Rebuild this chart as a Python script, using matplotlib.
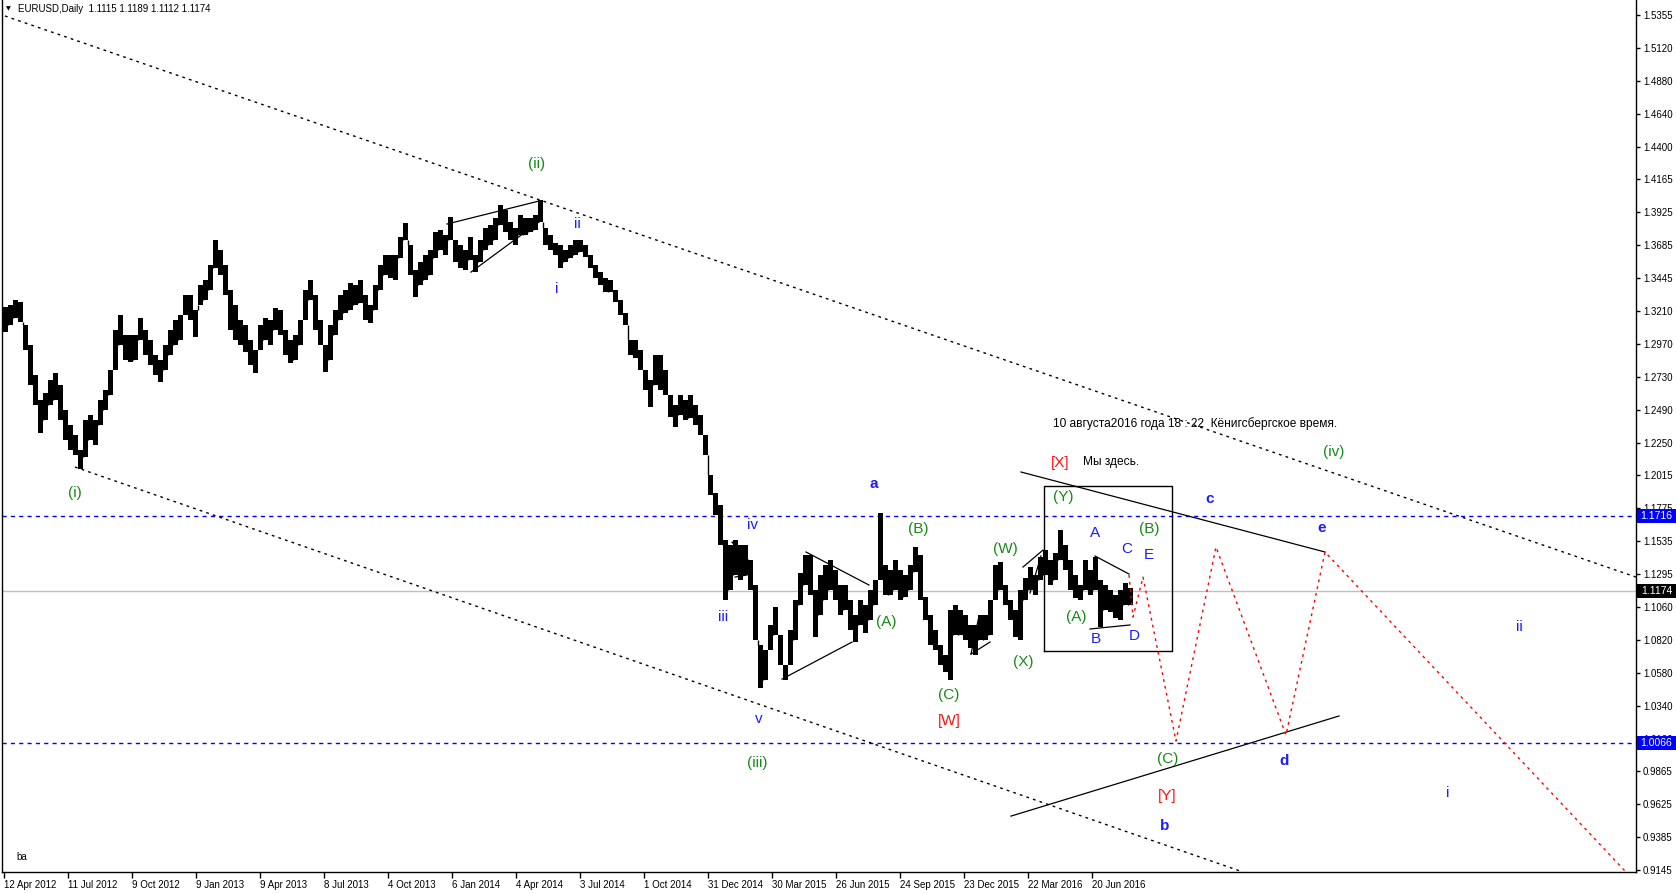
import matplotlib
matplotlib.use('Agg')
import matplotlib.pyplot as plt
from matplotlib.patches import Rectangle
import numpy as np

# ---------------- data ----------------
# price high / low of consecutive 5-day blocks of EURUSD daily bars (12 Apr 2012 .. 10 Aug 2016)
block_high = [
    1.3234, 1.3249, 1.3285, 1.3271, 1.3104, 1.2958, 1.2740, 1.2559, 1.2610, 1.2704,
    1.2755, 1.2668, 1.2486, 1.2377, 1.2305, 1.2196, 1.2413, 1.2450, 1.2413, 1.2559,
    1.2631, 1.2777, 1.3067, 1.3176, 1.3031, 1.3031, 1.3031, 1.3154, 1.3067, 1.2995,
    1.2886, 1.2849, 1.2958, 1.3067, 1.3140, 1.3176, 1.3321, 1.3321, 1.3212, 1.3394,
    1.3430, 1.3539, 1.3721, 1.3648, 1.3539, 1.3358, 1.3249, 1.3140, 1.3104, 1.2995,
    1.2922, 1.3104, 1.3154, 1.3140, 1.3227, 1.3212, 1.3067, 1.2995, 1.3031, 1.3140,
    1.3358, 1.3430, 1.3321, 1.3140, 1.2958, 1.3104, 1.3212, 1.3321, 1.3358, 1.3409,
    1.3394, 1.3430, 1.3321, 1.3249, 1.3394, 1.3539, 1.3612, 1.3612, 1.3612, 1.3743,
    1.3844, 1.3685, 1.3503, 1.3561, 1.3612, 1.3648, 1.3779, 1.3794, 1.3757, 1.3888,
    1.3721, 1.3685, 1.3648, 1.3743, 1.3612, 1.3721, 1.3808, 1.3830, 1.3881, 1.3975,
    1.3939, 1.3852, 1.3808, 1.3903, 1.3881, 1.3881, 1.3903, 1.4011, 1.3808, 1.3757,
    1.3699, 1.3685, 1.3648, 1.3685, 1.3721, 1.3721, 1.3685, 1.3612, 1.3539, 1.3489,
    1.3445, 1.3430, 1.3358, 1.3285, 1.3191, 1.2995, 1.2995, 1.2922, 1.2777, 1.2704,
    1.2886, 1.2886, 1.2777, 1.2595, 1.2522, 1.2595, 1.2559, 1.2595, 1.2522, 1.2450,
    1.2305, 1.2014, 1.1883, 1.1796, 1.1542, 1.1506, 1.1542, 1.1506, 1.1506, 1.1397,
    1.1215, 1.0779, 1.0743, 1.0925, 1.1055, 1.0852, 1.0634, 1.0888, 1.1106, 1.1302,
    1.1433, 1.1433, 1.1179, 1.1288, 1.1360, 1.1397, 1.1324, 1.1215, 1.1215, 1.1106,
    1.0997, 1.1106, 1.1070, 1.1179, 1.1252, 1.1738, 1.1361, 1.1324, 1.1397, 1.1324,
    1.1288, 1.1361, 1.1491, 1.1433, 1.1128, 1.0997, 1.0888, 1.0779, 1.0707, 1.1033,
    1.1070, 1.1033, 1.0997, 1.0925, 1.0925, 1.0997, 1.0997, 1.1106, 1.1361, 1.1382,
    1.1215, 1.1106, 1.1033, 1.1179, 1.1266, 1.1346, 1.1288, 1.1419, 1.1469, 1.1397,
    1.1448, 1.1615, 1.1506, 1.1397, 1.1288, 1.1215, 1.1397, 1.1324, 1.1419, 1.1252,
    1.1215, 1.1179, 1.1143, 1.1179, 1.1230, 1.1194]
block_low = [
    1.3053, 1.3104, 1.3154, 1.3125, 1.2922, 1.2668, 1.2523, 1.2319, 1.2413, 1.2523,
    1.2559, 1.2413, 1.2268, 1.2196, 1.2159, 1.2058, 1.2145, 1.2268, 1.2232, 1.2377,
    1.2486, 1.2595, 1.2777, 1.2958, 1.2849, 1.2835, 1.2849, 1.2995, 1.2886, 1.2813,
    1.2740, 1.2690, 1.2777, 1.2886, 1.2958, 1.2995, 1.3176, 1.3140, 1.3016, 1.3249,
    1.3285, 1.3358, 1.3518, 1.3467, 1.3321, 1.3067, 1.2995, 1.2958, 1.2907, 1.2813,
    1.2755, 1.2922, 1.2995, 1.2958, 1.3067, 1.3031, 1.2886, 1.2828, 1.2849, 1.2958,
    1.3140, 1.3285, 1.3067, 1.2958, 1.2762, 1.2849, 1.3031, 1.3140, 1.3191, 1.3212,
    1.3249, 1.3263, 1.3140, 1.3118, 1.3212, 1.3358, 1.3467, 1.3445, 1.3430, 1.3590,
    1.3721, 1.3467, 1.3307, 1.3394, 1.3430, 1.3467, 1.3590, 1.3648, 1.3612, 1.3721,
    1.3561, 1.3518, 1.3503, 1.3576, 1.3488, 1.3561, 1.3648, 1.3685, 1.3721, 1.3830,
    1.3779, 1.3721, 1.3685, 1.3757, 1.3757, 1.3779, 1.3794, 1.3852, 1.3685, 1.3648,
    1.3612, 1.3518, 1.3561, 1.3590, 1.3612, 1.3634, 1.3597, 1.3518, 1.3445, 1.3394,
    1.3343, 1.3343, 1.3271, 1.3176, 1.3104, 1.2886, 1.2864, 1.2777, 1.2631, 1.2508,
    1.2668, 1.2631, 1.2595, 1.2435, 1.2363, 1.2450, 1.2413, 1.2428, 1.2377, 1.2305,
    1.2159, 1.1869, 1.1724, 1.1506, 1.1106, 1.1179, 1.1288, 1.1252, 1.1288, 1.1179,
    1.0816, 1.0467, 1.0525, 1.0743, 1.0852, 1.0634, 1.0525, 1.0634, 1.0816, 1.1070,
    1.1215, 1.1142, 1.0837, 1.0997, 1.1106, 1.1179, 1.1106, 1.0997, 1.1033, 1.0888,
    1.0801, 1.0925, 1.0866, 1.0961, 1.1070, 1.1252, 1.1143, 1.1143, 1.1179, 1.1106,
    1.1128, 1.1179, 1.1309, 1.1106, 1.0961, 1.0779, 1.0743, 1.0634, 1.0583, 1.0525,
    1.0852, 1.0852, 1.0816, 1.0758, 1.0707, 1.0816, 1.0816, 1.0852, 1.1106, 1.1179,
    1.1070, 1.0961, 1.0837, 1.0816, 1.1106, 1.1179, 1.1143, 1.1252, 1.1288, 1.1215,
    1.1252, 1.1397, 1.1324, 1.1179, 1.1121, 1.1106, 1.1179, 1.1143, 1.1179, 1.0910,
    1.1033, 1.1019, 1.0975, 1.0961, 1.1070, 1.1070]
BLOCK = 5  # bars per block

date_labels = ["12 Apr 2012", "11 Jul 2012", "9 Oct 2012", "9 Jan 2013", "9 Apr 2013",
               "8 Jul 2013", "4 Oct 2013", "6 Jan 2014", "4 Apr 2014", "3 Jul 2014",
               "1 Oct 2014", "31 Dec 2014", "30 Mar 2015", "26 Jun 2015", "24 Sep 2015",
               "23 Dec 2015", "22 Mar 2016", "20 Jun 2016"]
price_labels = ["1.5355", "1.5120", "1.4880", "1.4640", "1.4400", "1.4165", "1.3925",
                "1.3685", "1.3445", "1.3210", "1.2970", "1.2730", "1.2490", "1.2250",
                "1.2015", "1.1775", "1.1535", "1.1295", "1.1060", "1.0820", "1.0580",
                "1.0340", "1.0100", "0.9865", "0.9625", "0.9385", "0.9145"]

level_high = 1.1716
level_low = 1.0066
bid = 1.1174
header = "EURUSD,Daily  1.1115 1.1189 1.1112 1.1174"

# trend lines: (bar, price) anchors
channel_upper = [(2, 1.5348), (1633, 1.1273)]
channel_lower = [(72, 1.2072), (1240, 0.9131)]
solid_lines = [
    [(444, 1.3837), (536, 1.4004)], [(468, 1.3488), (536, 1.3852)],      # wedge (ii)
    [(729, 1.1527), (745, 1.1397)], [(732, 1.1273), (744, 1.1288)],      # iv
    [(803, 1.1455), (866, 1.1215)], [(779, 1.0532), (849, 1.0801)],      # triangle (A)
    [(968, 1.0714), (976, 1.0990), (987, 1.0939)], [(968, 1.0714), (987, 1.0801)],
    [(1020, 1.1346), (1040, 1.1469)], [(1027, 1.1157), (1038, 1.1426)],
    [(1092, 1.1426), (1126, 1.1295)], [(1087, 1.0896), (1127, 1.0925)],  # A-E
    [(1018, 1.2036), (1322, 1.1455)], [(1008, 0.9537), (1336, 1.0264)],  # a-e
]
box = (1041, 1169, 1.0736, 1.1934)
projection = [(1126, 1.1288), (1130, 1.0983), (1140, 1.1273), (1173, 1.0082),
              (1213, 1.1491), (1283, 1.0126), (1322, 1.1455), (1622, 0.9138)]

GREEN, BLUE, RED = '#168a16', '#1c1cff', '#ff1010'
labels = [
    ("(ii)", 534, 1.4273, GREEN), ("ii", 574, 1.3837, BLUE), ("i", 554, 1.3365, BLUE),
    ("(i)", 72, 1.1883, GREEN), ("iv", 749, 1.1651, BLUE), ("iii", 720, 1.0983, BLUE),
    ("v", 756, 1.0242, BLUE), ("(iii)", 754, 0.9922, GREEN), ("a", 871, 1.1949, BLUE),
    ("(B)", 915, 1.1622, GREEN), ("(A)", 883, 1.0946, GREEN), ("(C)", 946, 1.0416, GREEN),
    ("[W]", 946, 1.0227, RED), ("(W)", 1002, 1.1477, GREEN), ("(X)", 1020, 1.0656, GREEN),
    ("[X]", 1057, 1.2101, RED), ("(Y)", 1060, 1.1854, GREEN), ("A", 1092, 1.1593, BLUE),
    ("(B)", 1146, 1.1622, GREEN), ("C", 1124, 1.1477, BLUE), ("E", 1146, 1.1433, BLUE),
    ("(A)", 1073, 1.0983, GREEN), ("B", 1093, 1.0823, BLUE), ("D", 1131, 1.0845, BLUE),
    ("c", 1207, 1.1840, BLUE), ("e", 1319, 1.1629, BLUE), ("(iv)", 1331, 1.2181, GREEN),
    ("ii", 1516, 1.0910, BLUE), ("(C)", 1165, 0.9951, GREEN), ("[Y]", 1164, 0.9683, RED),
    ("b", 1162, 0.9465, BLUE), ("d", 1281, 0.9937, BLUE), ("i", 1445, 0.9704, BLUE),
]
notes = [("Мы здесь.", 1080, 1.2109), ("10 августа2016 года 18 : 22  Кёнигсбергское время.", 1050, 1.2385)]

# ---------------- figure ----------------
W, H = 1676, 894
fig = plt.figure(figsize=(W / 100, H / 100), dpi=100)
fig.patch.set_facecolor('white')
plt.rcParams['font.family'] = ['Liberation Sans', 'DejaVu Sans']
L, R, T, B = 2, 1636, 0, 872
ax = fig.add_axes([L / W, 1 - B / H, (R - L) / W, (B - T) / H])
ax.set_xlim(-1, 1633)
ax.set_ylim(0.9131, 1.5464)

hi = np.array(block_high)
lo = np.array(block_low)
n = len(hi)
centers = np.arange(n) * BLOCK + (BLOCK - 1) / 2
ax.bar(centers, hi - lo, bottom=lo, width=BLOCK, color='black', linewidth=0, zorder=3)
edges = np.arange(1, n) * BLOCK - 0.5
ax.vlines(edges, np.minimum(hi[:-1], hi[1:]), np.maximum(lo[:-1], lo[1:]), color='black', lw=1, zorder=3)

# horizontal levels
ax.axhline(bid, color='#c0c0c0', lw=1, zorder=1)
for lv in (level_high, level_low):
    ax.axhline(lv, color='#0000ff', lw=1, ls=(0, (3, 3)), zorder=2)

# channel
for ln in (channel_upper, channel_lower):
    xs, ys = zip(*ln)
    ax.plot(xs, ys, color='black', lw=1, ls=(0, (2, 3)), zorder=2)
for ln in solid_lines:
    xs, ys = zip(*ln)
    ax.plot(xs, ys, color='black', lw=0.9, zorder=4)
bx0, bx1, by0, by1 = box
ax.plot([bx0, bx1, bx1, bx0, bx0], [by0, by0, by1, by1, by0], color='black', lw=1, zorder=4)
xs, ys = zip(*projection)
ax.plot(xs, ys, color='#ff0000', lw=1, ls=(0, (2, 3)), zorder=4)

for txt, x, y, c in labels:
    bold = txt in ('a', 'b', 'c', 'd', 'e')
    ax.text(x, y, txt, color=c, fontsize=11, ha='center', va='center',
            fontweight='bold' if bold else 'normal', zorder=5)
for txt, x, y in notes:
    ax.text(x, y, txt, color='black', fontsize=8.6, ha='left', va='center', zorder=5)
ax.text(13, 0.9240, "ba", fontsize=7, color='black', ha='left', va='center')

# axes styling
ax.spines['top'].set_visible(False)
for s in ('left', 'right', 'bottom'):
    ax.spines[s].set_color('black')
    ax.spines[s].set_linewidth(1)

yt = np.linspace(1.5355, 0.9145, len(price_labels))
ax.yaxis.tick_right()
ax.set_yticks(yt)
ax.set_yticklabels(price_labels)
ax.tick_params(axis='y', direction='out', length=3, width=1, pad=2, labelsize=7, colors='black')
xt = np.arange(len(date_labels)) * 64 + 1
ax.set_xticks(xt)
ax.set_xticklabels(date_labels)
ax.tick_params(axis='x', direction='out', length=4, width=1, pad=2, labelsize=7, colors='black')
for t in ax.get_xticklabels():
    t.set_ha('left')

# price boxes at the right axis (drawn over the tick labels, as in the terminal)
fig.canvas.draw()
for val, fc in ((level_high, '#0000ff'), (level_low, '#0000ff'), (bid, 'black')):
    _, ypx = ax.transData.transform((0, val))
    fig.add_artist(Rectangle((1637 / W, (ypx - 7) / H), 39 / W, 14 / H,
                             transform=fig.transFigure, facecolor=fc, edgecolor='none', zorder=20))
    fig.text(1656.5 / W, ypx / H, f"{val:.4f}", fontsize=7.5, color='white',
             ha='center', va='center', zorder=21)

fig.text(8 / W, 1 - 9 / H, "▼", fontsize=4.5, ha='center', va='center', family='DejaVu Sans')
fig.text(18 / W, 1 - 9 / H, header, fontsize=7, ha='left', va='center', color='black')

fig.savefig('out.png', dpi=100, facecolor='white')
